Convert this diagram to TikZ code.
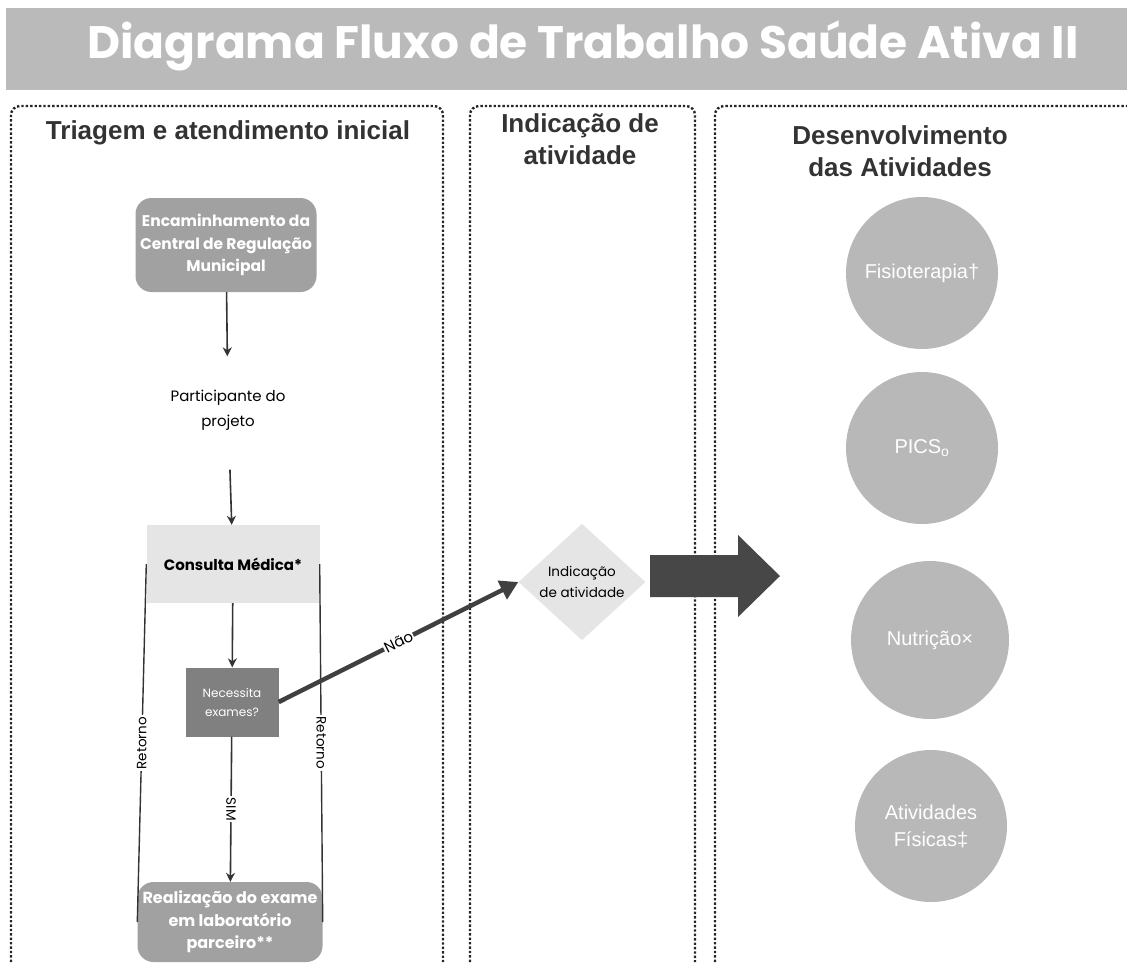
\documentclass[tikz,border=0pt]{standalone}
\usepackage{fontspec}
\setmainfont{Liberation Sans}
\newfontfamily\poppins{Poppins}
\usetikzlibrary{arrows.meta,shapes.geometric}

\tikzset{
    painel/.style={draw=black!85, dotted, line width=2.4pt, rounded corners=9pt},
    titulopainel/.style={font=\bfseries\fontsize{26}{32}\selectfont, text=black!80, align=center},
    caixa/.style={fill=black!37, rounded corners=16pt, text=white, align=center, font=\poppins\bfseries\fontsize{15.5}{22.5}\selectfont},
    texto/.style={align=center, font=\poppins\fontsize{15}{25}\selectfont},
    seta/.style={-{Stealth[length=9pt,width=9pt]}, line width=1.6pt, black!80},
    nao/.style={-{Triangle[length=18pt,width=20pt]}, line width=4.5pt, black!75},
    linha/.style={line width=1.4pt, black!80},
    rotulo/.style={fill=white, inner sep=1.5pt, text=black, font=\poppins\fontsize{13.5}{13.5}\selectfont},
    circulo/.style={circle, fill=black!28, minimum size=152pt, text=white, align=center, font=\fontsize{20}{27}\selectfont}
}

\begin{document}
\begin{tikzpicture}[x=1pt, y=-1pt]
        \useasboundingbox (0,0) rectangle (1127,962);

        \node[fill=black!27, minimum width=1122pt, minimum height=82pt, inner sep=0pt, anchor=north west] (faixa) at (6,8) {};
        \node[text=white, font=\poppins\bfseries\fontsize{45.5}{45.5}\selectfont] (titulo) at (583,46) {Diagrama Fluxo de Trabalho Saúde Ativa II};

        \draw[painel] (11,962) -- (11,106) -- (443,106) -- (443,962);
        \draw[painel] (470,962) -- (470,106) -- (695,106) -- (695,962);
        \draw[painel] (715,962) -- (715,106) -- (1140,106);

        \node[titulopainel] (tit1) at (228,133) {Triagem e atendimento inicial};
        \node[titulopainel] (tit2) at (580,139) {Indicação de\\atividade};
        \node[titulopainel] (tit3) at (900,151) {Desenvolvimento\\das Atividades};

        \node[caixa, minimum width=181pt, minimum height=94pt] (encam) at (226,245) {Encaminhamento da\\Central de Regulação\\Municipal};
        \node[texto] (partic) at (228,410) {Participante do\\projeto};
        \node[fill=black!10, minimum width=173pt, minimum height=78pt, font=\poppins\bfseries\fontsize{15}{15}\selectfont] (consulta) at (233,564) {Consulta Médica*};
        \node[fill=black!50, minimum width=93pt, minimum height=69pt, text=white, align=center, font=\poppins\fontsize{12}{19}\selectfont] (exames) at (232,702) {Necessita\\exames?};
        \node[caixa, minimum width=185pt, minimum height=80pt, font=\poppins\bfseries\fontsize{16}{22.5}\selectfont] (realiz) at (230,922) {Realização do exame\\em laboratório\\parceiro**};

        \draw[seta, shorten >=30pt] (encam) -- (partic);
        \draw[seta, shorten <=36pt] (partic) -- (consulta);
        \draw[seta] (consulta) -- (exames);
        \draw[seta] (exames) -- node[rotulo, rotate=-90] {SIM} (realiz);
        \draw[linha] (consulta.west) -- node[rotulo, rotate=90] {Retorno} (realiz.west);
        \draw[linha] (consulta.east) -- node[rotulo, rotate=-90] {Retorno} (realiz.east);

        \node[diamond, fill=black!10, minimum width=127pt, minimum height=110pt, inner sep=0pt, align=center, font=\poppins\fontsize{13.5}{21}\selectfont] (indic) at (582,582) {Indicação\\de atividade};
        \draw[nao] (exames.east) -- node[rotulo, sloped, inner sep=1pt, font=\poppins\fontsize{15}{15}\selectfont] {Não} (indic.west);

        \fill[black!72] (650,555) -- (738,555) -- (738,535) -- (780,576) -- (738,617) -- (738,597) -- (650,597) -- cycle;

        \node[circulo] (fisio) at (922,273) {Fisioterapia†};
        \node[circulo] (pics) at (922,448) {PICS\textsubscript{o}};
        \node[circulo, minimum size=158pt] (nutri) at (930,640) {Nutrição×};
        \node[circulo] (ativ) at (931,826) {Atividades\\Físicas‡};

\end{tikzpicture}
\end{document}
